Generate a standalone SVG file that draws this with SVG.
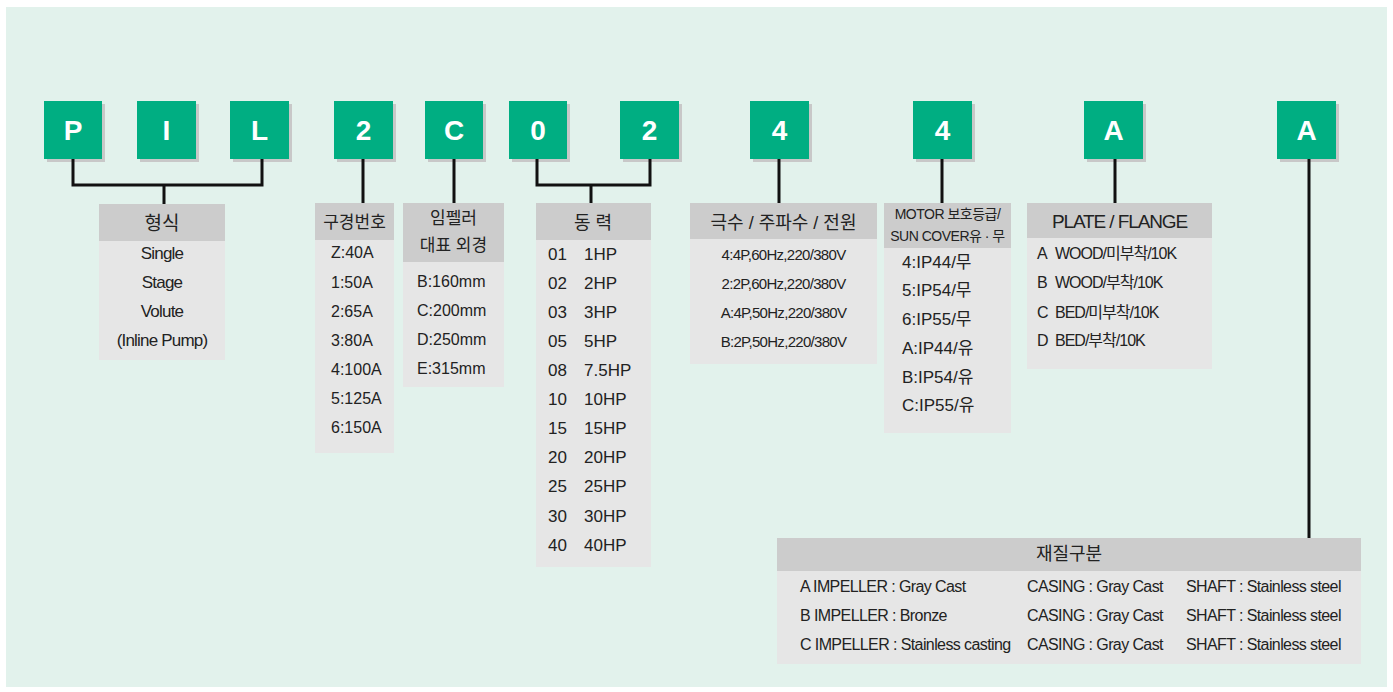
<svg xmlns="http://www.w3.org/2000/svg" width="1393" height="692" viewBox="0 0 1393 692">
<style>
text{font-family:'Liberation Sans','Noto Sans CJK KR',sans-serif;fill:#222;}
.code{font-family:'Liberation Sans',sans-serif;font-weight:bold;font-size:28px;fill:#fff;text-anchor:middle;}
.box{fill:#00ae82;}
.sh{fill:#c8c8c8;}
.hd{fill:#cccccc;}
.bd{fill:#e6e6e6;}
.h{font-size:18px;text-anchor:middle;}
.t{font-size:16px;}
.c{text-anchor:middle;}
.conn{fill:none;stroke:#111;stroke-width:3;stroke-linejoin:miter;}
</style>
<rect x="6" y="7" width="1381" height="680" fill="#e2f2ec"/>

<g id="code-boxes">
<g id="box-P"><rect class="sh" x="47" y="104" width="58" height="58"/><rect class="box" x="44" y="101" width="58" height="58"/><text class="code" x="73" y="140">P</text></g>
<g id="box-I"><rect class="sh" x="140" y="104" width="59" height="58"/><rect class="box" x="137" y="101" width="59" height="58"/><text class="code" x="166.5" y="140">I</text></g>
<g id="box-L"><rect class="sh" x="233" y="104" width="59" height="58"/><rect class="box" x="230" y="101" width="59" height="58"/><text class="code" x="259.5" y="140">L</text></g>
<g id="box-2a"><rect class="sh" x="337" y="104" width="59" height="58"/><rect class="box" x="334" y="101" width="59" height="58"/><text class="code" x="363.5" y="140">2</text></g>
<g id="box-C"><rect class="sh" x="428" y="104" width="58" height="58"/><rect class="box" x="425" y="101" width="58" height="58"/><text class="code" x="454" y="140">C</text></g>
<g id="box-0"><rect class="sh" x="512" y="104" width="58" height="58"/><rect class="box" x="509" y="101" width="58" height="58"/><text class="code" x="538" y="140">0</text></g>
<g id="box-2b"><rect class="sh" x="623" y="104" width="59" height="58"/><rect class="box" x="620" y="101" width="59" height="58"/><text class="code" x="649.5" y="140">2</text></g>
<g id="box-4a"><rect class="sh" x="753" y="104" width="59" height="58"/><rect class="box" x="750" y="101" width="59" height="58"/><text class="code" x="779.5" y="140">4</text></g>
<g id="box-4b"><rect class="sh" x="916" y="104" width="59" height="58"/><rect class="box" x="913" y="101" width="59" height="58"/><text class="code" x="942.5" y="140">4</text></g>
<g id="box-Aa"><rect class="sh" x="1087" y="104" width="59" height="58"/><rect class="box" x="1084" y="101" width="59" height="58"/><text class="code" x="1113.5" y="140">A</text></g>
<g id="box-Ab"><rect class="sh" x="1280" y="104" width="59" height="58"/><rect class="box" x="1277" y="101" width="59" height="58"/><text class="code" x="1306.5" y="140">A</text></g>
</g>

<g id="connectors">
<path class="conn" d="M73 159 V185 H262 V159"/>
<path class="conn" d="M164 185 V204"/>
<path class="conn" d="M363 159 V203"/>
<path class="conn" d="M454 159 V203"/>
<path class="conn" d="M537 159 V185 H650 V159"/>
<path class="conn" d="M591 185 V203"/>
<path class="conn" d="M779 159 V203"/>
<path class="conn" d="M942 159 V203"/>
<path class="conn" d="M1115 159 V203"/>
<path class="conn" d="M1309 159 V538"/>
</g>

<g id="type">
<rect class="bd" x="99" y="204" width="126" height="156"/>
<rect class="hd" x="99" y="204" width="126" height="37"/>
<text class="h" x="162" y="230" style="font-size:19px">형식</text>
<g class="t c" style="font-size:17px;letter-spacing:-0.8px">
<text x="162" y="259">Single</text>
<text x="162" y="288">Stage</text>
<text x="162" y="317">Volute</text>
<text x="162" y="346">(Inline Pump)</text>
</g>
</g>

<g id="bore">
<rect class="bd" x="315" y="203" width="79" height="250"/>
<rect class="hd" x="315" y="203" width="79" height="37"/>
<text class="h" x="354.5" y="228" style="font-size:17px">구경번호</text>
<g class="t">
<text x="331" y="258">Z:40A</text>
<text x="331" y="288">1:50A</text>
<text x="331" y="317">2:65A</text>
<text x="331" y="346">3:80A</text>
<text x="331" y="375">4:100A</text>
<text x="331" y="404">5:125A</text>
<text x="331" y="433">6:150A</text>
</g>
</g>

<g id="impeller">
<rect class="bd" x="403" y="203" width="101" height="184"/>
<rect class="hd" x="403" y="203" width="101" height="59"/>
<text class="h" x="453.5" y="224" style="font-size:17px">임펠러</text>
<text class="h" x="453.5" y="251" style="font-size:17px">대표 외경</text>
<g class="t">
<text x="417" y="287">B:160mm</text>
<text x="417" y="316">C:200mm</text>
<text x="417" y="345">D:250mm</text>
<text x="417" y="374">E:315mm</text>
</g>
</g>

<g id="power">
<rect class="bd" x="536" y="203" width="115" height="364"/>
<rect class="hd" x="536" y="203" width="115" height="37"/>
<text class="h" x="593" y="229">동 력</text>
<g class="t" style="font-size:17px">
<text x="548" y="260">01</text><text x="584" y="260">1HP</text>
<text x="548" y="289">02</text><text x="584" y="289">2HP</text>
<text x="548" y="318">03</text><text x="584" y="318">3HP</text>
<text x="548" y="347">05</text><text x="584" y="347">5HP</text>
<text x="548" y="376">08</text><text x="584" y="376">7.5HP</text>
<text x="548" y="405">10</text><text x="584" y="405">10HP</text>
<text x="548" y="434">15</text><text x="584" y="434">15HP</text>
<text x="548" y="463">20</text><text x="584" y="463">20HP</text>
<text x="548" y="492">25</text><text x="584" y="492">25HP</text>
<text x="548" y="522">30</text><text x="584" y="522">30HP</text>
<text x="548" y="551">40</text><text x="584" y="551">40HP</text>
</g>
</g>

<g id="poles">
<rect class="bd" x="690" y="203" width="187" height="161"/>
<rect class="hd" x="690" y="203" width="187" height="36"/>
<text class="h" x="783.5" y="229">극수 / 주파수 / 전원</text>
<g class="t c" style="font-size:15px;letter-spacing:-0.7px">
<text x="783.5" y="259.5">4:4P,60Hz,220/380V</text>
<text x="783.5" y="288.5">2:2P,60Hz,220/380V</text>
<text x="783.5" y="317.5">A:4P,50Hz,220/380V</text>
<text x="783.5" y="346.5">B:2P,50Hz,220/380V</text>
</g>
</g>

<g id="protection">
<rect class="bd" x="884" y="203" width="127" height="230"/>
<rect class="hd" x="884" y="203" width="127" height="45"/>
<g class="h" style="font-size:14px;letter-spacing:-0.5px">
<text x="947.5" y="219">MOTOR 보호등급/</text>
<text x="947.5" y="241">SUN COVER유 · 무</text>
</g>
<g class="t" style="font-size:17px">
<text x="902" y="268">4:IP44/무</text>
<text x="902" y="296">5:IP54/무</text>
<text x="902" y="325">6:IP55/무</text>
<text x="902" y="354">A:IP44/유</text>
<text x="902" y="383">B:IP54/유</text>
<text x="902" y="411">C:IP55/유</text>
</g>
</g>

<g id="plate">
<rect class="bd" x="1027" y="203" width="185" height="166"/>
<rect class="hd" x="1027" y="203" width="185" height="35"/>
<text class="h" x="1119.5" y="228" style="font-size:19px;letter-spacing:-1.1px">PLATE / FLANGE</text>
<g class="t" style="letter-spacing:-1px">
<text x="1037" y="259">A</text><text x="1055" y="259">WOOD/미부착/10K</text>
<text x="1037" y="288">B</text><text x="1055" y="288">WOOD/부착/10K</text>
<text x="1037" y="318">C</text><text x="1055" y="318">BED/미부착/10K</text>
<text x="1037" y="346">D</text><text x="1055" y="346">BED/부착/10K</text>
</g>
</g>

<g id="material">
<rect class="bd" x="777" y="538" width="584" height="126"/>
<rect class="hd" x="777" y="538" width="584" height="33"/>
<text class="h" x="1069" y="560">재질구분</text>
<g class="t" style="letter-spacing:-0.6px">
<text x="800" y="592">A IMPELLER : Gray Cast</text>
<text x="800" y="621">B IMPELLER : Bronze</text>
<text x="800" y="650">C IMPELLER : Stainless casting</text>
<text x="1027" y="592">CASING : Gray Cast</text>
<text x="1027" y="621">CASING : Gray Cast</text>
<text x="1027" y="650">CASING : Gray Cast</text>
<text x="1186" y="592">SHAFT : Stainless steel</text>
<text x="1186" y="621">SHAFT : Stainless steel</text>
<text x="1186" y="650">SHAFT : Stainless steel</text>
</g>
</g>
</svg>
